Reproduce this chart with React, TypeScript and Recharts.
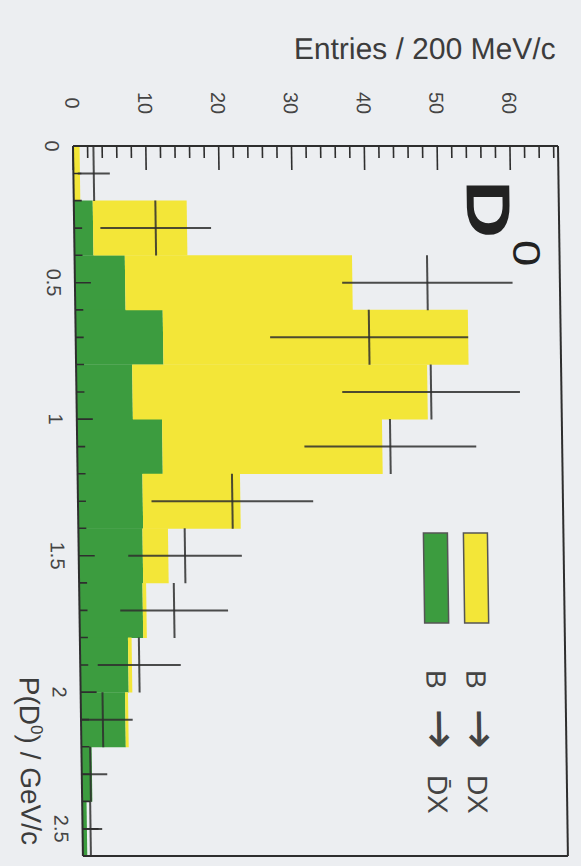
import { ComposedChart, Bar, ErrorBar, XAxis, YAxis } from "recharts";

// 200 MeV/c bins of P(D0), lower edges in GeV/c
const BINS = ["0.0", "0.2", "0.4", "0.6", "0.8", "1.0", "1.2", "1.4", "1.6", "1.8", "2.0", "2.2", "2.4"];
// B -> Dbar X (green, bottom of the stack)
const GREEN = [0, 2.6, 6.9, 12.0, 7.7, 11.7, 8.9, 8.8, 8.7, 6.6, 6.1, 1.4, 0.6];
// B -> D X (yellow, stacked on top of green)
const YELLOW = [0.9, 12.9, 31.2, 41.9, 40.5, 30.2, 13.4, 3.5, 0.5, 0.5, 0.4, 0, 0];

// measured points (crosses), one per bin
const DATA_VALUES = [2.8, 11.2, 48.4, 40.3, 48.7, 43.0, 21.2, 14.6, 13.0, 8.1, 3.0, 1.2, 1.1];
const DATA_ERRORS = [2.2, 7.6, 11.7, 13.6, 12.2, 11.8, 11.1, 7.8, 7.4, 5.7, 4.1, 2.3, 1.6];

const ENTRY_TICKS = [0, 2, 4, 6, 8, 10, 12, 14, 16, 18, 20, 22, 24, 26, 28, 30, 32, 34, 36, 38, 40, 42, 44, 46, 48, 50, 52, 54, 56, 58, 60, 62, 64, 66];
const ENTRY_MAX = 66.6;

const INK = "#2e2e2e";
const LABEL = "#444";
const YELLOW_FILL = "#f3e638";
const GREEN_FILL = "#3c9c3f";
const BG = "#eceef1";
const FONT = "'Liberation Sans', Arial, Helvetica, sans-serif";

const histData = BINS.map((bin, i) => ({
  bin,
  green: GREEN[i],
  yellow: YELLOW[i],
  v: DATA_VALUES[i],
  // errors are clipped at zero entries
  e: [Math.min(DATA_VALUES[i], DATA_ERRORS[i]), DATA_ERRORS[i]],
}));

const isHalfGeV = (p: number) => Math.round(p * 10) % 5 === 0;

const TopTick = (props: any) => {
  const { x, y, payload } = props;
  const major = payload.value % 10 === 0;
  return (
    <g>
      <line x1={x} y1={y} x2={x} y2={y + (major ? 24 : 12)} stroke={INK} strokeWidth={1.6} />
      {major && (
        <text
          transform={`translate(${x},${y - 43}) rotate(90)`}
          textAnchor="middle"
          dominantBaseline="central"
          fontSize={20}
          fontFamily={FONT}
          fill={LABEL}
        >
          {payload.value}
        </text>
      )}
    </g>
  );
};

// labels only; one category tick per bin, labels at the bin edge or centre that falls on 0.5 GeV/c
const LeftTick = (props: any) => {
  const { x, y, payload } = props;
  const half = payload.offset || 27.3;
  const lo = parseFloat(payload.value);
  const marks = [
    { p: lo, y: y - half },
    { p: lo + 0.1, y },
  ].filter((m) => isHalfGeV(m.p));
  return (
    <g>
      {marks.map((m) => (
        <text
          key={m.p}
          transform={`translate(${x - 21},${m.y}) rotate(90)`}
          textAnchor="middle"
          dominantBaseline="central"
          fontSize={20}
          fontFamily={FONT}
          fill={LABEL}
        >
          {String(Math.round(m.p * 10) / 10)}
        </text>
      ))}
    </g>
  );
};

// the data point: a line across the bin width at the measured value,
// plus the inward P ticks of this bin (drawn here so they stay above the filled bins)
const BinLine = (props: any) => {
  const { x, y, width, height, payload } = props;
  const lo = parseFloat(payload.bin);
  const ticks = [
    { p: lo, y },
    { p: lo + 0.1, y: y + height / 2 },
  ];
  return (
    <g>
      {ticks.map((t) => (
        <line key={t.p} x1={x} y1={t.y} x2={x + (isHalfGeV(t.p) ? 16 : 8)} y2={t.y} stroke={INK} strokeWidth={1.6} />
      ))}
      <line x1={x + width} y1={y} x2={x + width} y2={y + height} stroke={INK} strokeWidth={2} strokeOpacity={0.85} />
    </g>
  );
};

const frameLine = { stroke: INK, strokeWidth: 2 };

export default function App() {
  return (
    <div style={{ position: "absolute", left: 0, top: 0, width: 581, height: 866, background: BG, overflow: "hidden" }}>
      <div style={{ position: "relative", width: 581, height: 866, transform: "skewX(0.8deg)", transformOrigin: "0 146px" }}>
        <ComposedChart
          width={581}
          height={866}
          layout="vertical"
          data={histData}
          margin={{ top: 145, right: 22, bottom: 9, left: 72 }}
          barCategoryGap={0}
          barGap={0}
        >
          <YAxis yAxisId="hist" type="category" dataKey="bin" width={0} hide />
          <XAxis
            type="number"
            orientation="top"
            domain={[0, ENTRY_MAX]}
            ticks={ENTRY_TICKS}
            interval={0}
            height={1}
            tickSize={0}
            tickMargin={0}
            axisLine={frameLine}
            tickLine={false}
            tick={TopTick}
            allowDataOverflow
          />
          <XAxis
            xAxisId="bottom"
            type="number"
            orientation="bottom"
            domain={[0, ENTRY_MAX]}
            height={1}
            tick={false}
            tickLine={false}
            axisLine={frameLine}
          />
          <YAxis
            yAxisId="pts"
            type="category"
            dataKey="bin"
            interval={0}
            width={1}
            tickSize={0}
            tickMargin={0}
            axisLine={frameLine}
            tickLine={false}
            tick={LeftTick}
          />
          <YAxis
            yAxisId="right"
            type="category"
            dataKey="bin"
            orientation="right"
            width={1}
            tick={false}
            tickLine={false}
            axisLine={frameLine}
          />
          <Bar yAxisId="hist" dataKey="green" stackId="h" fill={GREEN_FILL} isAnimationActive={false} />
          <Bar yAxisId="hist" dataKey="yellow" stackId="h" fill={YELLOW_FILL} isAnimationActive={false} />
          <Bar yAxisId="pts" dataKey="v" shape={BinLine} isAnimationActive={false}>
            <ErrorBar dataKey="e" direction="x" width={0} stroke={INK} strokeWidth={2} strokeOpacity={0.85} />
          </Bar>
        </ComposedChart>

        <svg width={581} height={866} style={{ position: "absolute", left: 0, top: 0, pointerEvents: "none" }}>
          <text x={557} y={59} textAnchor="end" fontSize={30} fontFamily={FONT} fill="#3c3c3c">
            Entries / 200 MeV/c
          </text>
          <text transform="translate(12,845) rotate(90)" textAnchor="end" fontSize={28} fontFamily={FONT} fill="#3c3c3c">
            P(D<tspan dy={-11} fontSize={17}>0</tspan><tspan dy={11}>) / GeV/c</tspan>
          </text>

          {/* D0 label */}
          <text transform="translate(466,180) rotate(90) scale(1.3,1)" fontSize={62} fontWeight="bold" fontFamily={FONT} fill="#222">
            D
          </text>
          <text transform="translate(512,240) rotate(90) scale(1.25,1)" fontSize={38} fontFamily={FONT} fill="#222">
            0
          </text>

          {/* legend */}
          <rect x={458} y={533} width={24} height={90} fill={YELLOW_FILL} stroke="#555" strokeWidth={1.5} />
          <rect x={418} y={533} width={24} height={90} fill={GREEN_FILL} stroke="#555" strokeWidth={1.5} />
          <text transform="translate(459,670) rotate(90)" fontSize={28} fontFamily={FONT} fill="#444">
            B
            <tspan dx={20} dy={3} fontSize={48} fontFamily="'DejaVu Sans', sans-serif">→</tspan>
            <tspan dx={26} dy={-3}>DX</tspan>
          </text>
          <text transform="translate(419,670) rotate(90)" fontSize={28} fontFamily={FONT} fill="#444">
            B
            <tspan dx={20} dy={3} fontSize={48} fontFamily="'DejaVu Sans', sans-serif">→</tspan>
            <tspan dx={26} dy={-3}>D̄X</tspan>
          </text>
        </svg>
      </div>
    </div>
  );
}
